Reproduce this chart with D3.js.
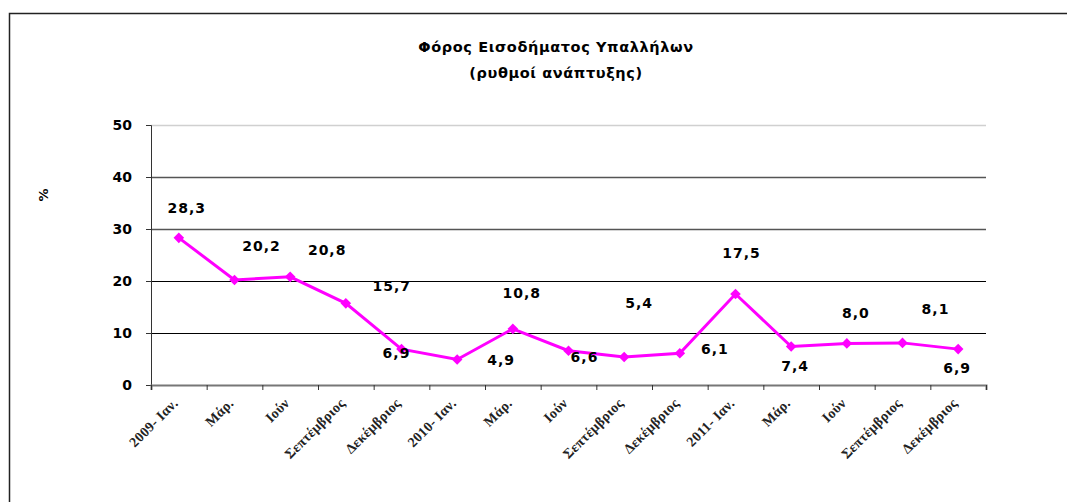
<!DOCTYPE html>
<html><head><meta charset="utf-8">
<script src="https://cdn.jsdelivr.net/npm/d3@7"></script>
<style>body{margin:0;background:#fff}svg{display:block}</style>
</head><body>
<svg id="c" width="1067" height="502"></svg>
<script>
const categories = ["2009- Ιαν.","Μάρ.","Ιούν","Σεπτέμβριος","Δεκέμβριος","2010- Ιαν.","Μάρ.","Ιούν","Σεπτέμβριος","Δεκέμβριος","2011- Ιαν.","Μάρ.","Ιούν","Σεπτέμβριος","Δεκέμβριος"];
const values = [28.3,20.2,20.8,15.7,6.9,4.9,10.8,6.6,5.4,6.1,17.5,7.4,8.0,8.1,6.9];
const yTicks = [0,10,20,30,40,50];
const titleLines = ["Φόρος Εισοδήματος Υπαλλήλων","(ρυθμοί ανάπτυξης)"];
// label placement (pixel offsets from each point), layout only
const labelDx = [8,27,37,46,-5,44,9,16,15,35,6,4,9,33,-1];
const labelDy = [-30,-34,-27,-17,4,0,-36,6,-54,-4,-41,19,-30,-34,19];

const svg = d3.select("#c");
const L = 151, R = 986, T = 125, B = 385;
const x = d3.scaleBand().domain(d3.range(categories.length)).range([L, R]);
const y = d3.scaleLinear().domain([0, 50]).range([B, T]);
const lblFont = "'DejaVu Sans', sans-serif";

// frame
svg.append("rect").attr("x",9.5).attr("y",13.5).attr("width",1070).attr("height",500)
  .attr("fill","none").attr("stroke","#222").attr("stroke-width",1.5);

// title
svg.append("g").selectAll("text").data(titleLines).join("text")
  .attr("x",556).attr("y",(d,i)=>52+i*26).attr("text-anchor","middle")
  .attr("font-family",lblFont).attr("font-weight","bold").attr("font-size",14.5).attr("letter-spacing",0.6).text(d=>d);

// gridlines
svg.append("g").selectAll("line").data(yTicks.filter(d=>d>0)).join("line")
  .attr("x1",L).attr("x2",R).attr("y1",d=>Math.round(y(d))+0.5).attr("y2",d=>Math.round(y(d))+0.5)
  .attr("stroke",d=>d===50?"#d0d0d0":(d>=30?"#555":"#000")).attr("stroke-width",d=>d>=30?1.3:1);

// y axis
const ya = svg.append("g").attr("transform",`translate(${L},0)`)
  .call(d3.axisLeft(y).tickValues(yTicks).tickSize(5).tickPadding(14));
ya.select(".domain").attr("stroke","#333");
ya.selectAll(".tick line").attr("stroke","#333");
ya.selectAll("text").attr("font-family",lblFont).attr("font-weight","bold").attr("font-size",14).attr("fill","#000");

// x axis
const xa = svg.append("g").attr("transform",`translate(0,${B})`)
  .call(d3.axisBottom(d3.scaleLinear().domain([0,categories.length]).range([L,R]))
    .tickValues(d3.range(categories.length+1)).tickSize(5).tickFormat(""));
xa.select(".domain").attr("stroke","#777").attr("stroke-width",2);
xa.selectAll(".tick line").attr("stroke","#333");

svg.append("g").selectAll("text").data(categories).join("text")
  .attr("transform",(d,i)=>`translate(${x(i)+x.bandwidth()/2},${B+19}) rotate(-45)`)
  .attr("text-anchor","end").attr("font-family","'Liberation Serif', serif")
  .attr("font-weight","bold").attr("font-size",14).attr("letter-spacing",0.3).attr("fill","#222").text(d=>d);

// y title
svg.append("text").attr("transform","translate(48,195) rotate(-90)").attr("text-anchor","middle")
  .attr("font-family",lblFont).attr("font-weight","bold").attr("font-size",13).text("%");

// line
const cx = i => x(i)+x.bandwidth()/2;
svg.append("path").datum(values)
  .attr("d",d3.line().x((d,i)=>cx(i)).y(d=>y(d)))
  .attr("fill","none").attr("stroke","#ff00ff").attr("stroke-width",3);
svg.append("g").selectAll("path").data(values).join("path")
  .attr("transform",(d,i)=>`translate(${cx(i)},${y(d)}) rotate(45)`)
  .attr("d",d3.symbol().type(d3.symbolSquare).size(56)).attr("fill","#ff00ff");

// data labels
svg.append("g").selectAll("text").data(values).join("text")
  .attr("x",(d,i)=>cx(i)+labelDx[i]).attr("y",(d,i)=>y(d)+labelDy[i]+5)
  .attr("text-anchor","middle").attr("font-family",lblFont).attr("font-weight","bold")
  .attr("font-size",14).attr("letter-spacing",1)
  .text(d=>d.toFixed(1).replace(".",","));
</script>
</body></html>
